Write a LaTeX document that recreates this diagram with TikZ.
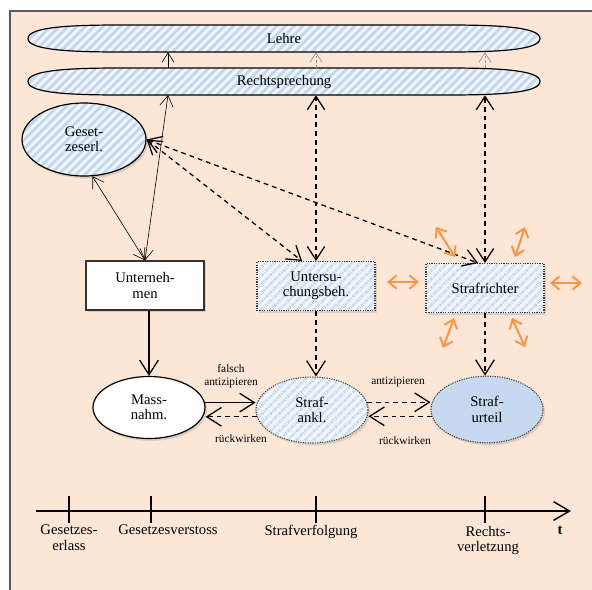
\documentclass[tikz,border=0pt]{standalone}
\usepackage{fontspec}
\setmainfont{Liberation Serif}
\usetikzlibrary{arrows.meta,shapes.geometric,patterns.meta,shadows}
\definecolor{peach}{RGB}{253,230,213}
\definecolor{stripefg}{RGB}{193,214,240}
\definecolor{stripebg}{RGB}{242,246,252}
\definecolor{urteilblue}{RGB}{198,217,241}
\definecolor{orangeA}{RGB}{247,150,70}
\definecolor{framegray}{RGB}{90,90,90}
\begin{document}
\begin{tikzpicture}[x=0.75pt,y=-0.75pt,
  every node/.style={font=\fontsize{11}{11.5}\selectfont, align=center, inner sep=0pt},
  lbl/.style={font=\fontsize{8.5}{9.5}\selectfont},
  stripes/.style={preaction={fill=stripebg}, pattern={Lines[angle=45,distance=4.6pt,line width=2.1pt]}, pattern color=stripefg},
  shad/.style={drop shadow={opacity=0.25,shadow xshift=1.5pt,shadow yshift=-1.8pt}},
  bandtext/.style={rectangle, minimum width=384pt, minimum height=20.25pt},
  bandline/.style={draw=black, line width=0.9pt, stripes},
  dotbord/.style={draw=black!75, line width=0.8pt, dash pattern=on 0.9pt off 0.9pt},
  boxnode/.style={rectangle, minimum width=88.5pt, minimum height=36.75pt, shad},
  ellnode/.style={ellipse, minimum width=84pt, minimum height=47pt, shad},
  thinboth/.style={line width=0.45pt, >={Straight Barb[length=8pt,width=10pt]}, <->},
  thinone/.style={line width=0.45pt, >={Straight Barb[length=7pt,width=9pt]}, ->},
  dashboth/.style={line width=0.95pt, dash pattern=on 3.6pt off 3pt, >={Straight Barb[length=10pt,width=13pt]}, <->},
  dashone/.style={line width=0.95pt, dash pattern=on 3.6pt off 3pt, >={Straight Barb[length=11pt,width=14pt]}, ->},
  solidone/.style={line width=0.95pt, >={Straight Barb[length=11pt,width=14pt]}, ->},
  faintdash/.style={line width=0.5pt, draw=black!45, dash pattern=on 2pt off 1.5pt, >={Straight Barb[length=7pt,width=9pt]}, ->},
  orarrow/.style={draw=orangeA, line width=1.5pt, >={Straight Barb[length=6pt,width=10pt]}, <->, drop shadow={opacity=0.2,shadow xshift=1pt,shadow yshift=-1.2pt}},
  ticks/.style={line width=0.8pt}
]
\useasboundingbox (0,0) rectangle (592,589);
% frame
\fill[peach] (10,11) rectangle (600,600);
\draw[framegray, line width=0.9pt] (10,600) -- (10,11) -- (600,11);

% bands
\path[bandline] (28,38.5) .. controls (28,27) and (70,25) .. (120,25) -- (448,25) .. controls (498,25) and (540,27) .. (540,38.5) .. controls (540,50) and (498,52) .. (448,52) -- (120,52) .. controls (70,52) and (28,50) .. (28,38.5) -- cycle;
\path[bandline] (28,81.5) .. controls (28,70) and (70,68) .. (120,68) -- (448,68) .. controls (498,68) and (540,70) .. (540,81.5) .. controls (540,93) and (498,95) .. (448,95) -- (120,95) .. controls (70,95) and (28,93) .. (28,81.5) -- cycle;
\node[bandtext] (lehre) at (284,38.5) {Lehre};
\node[bandtext] (recht) at (284,81.5) {Rechtsprechung};

% nodes
\node[ellipse, minimum width=93pt, minimum height=54.75pt, shad, draw=black, line width=0.9pt, stripes] (gesetz) at (84,139.5) {Geset-\\zeserl.};
\node[boxnode, draw=black!80, line width=0.9pt, fill=white] (unt) at (145,285.5) {Unterneh-\\men};
\node[boxnode, dotbord, stripes] (ub) at (316,286) {Untersu-\\chungsbeh.};
\node[boxnode, dotbord, stripes] (sr) at (485,288) {Strafrichter};
\node[ellnode, draw=black, line width=0.9pt, fill=white, minimum height=46.5pt] (massn) at (149,407.5) {Mass-\\nahm.};
\node[ellnode, dotbord, stripes, minimum height=49.5pt] (anklage) at (312,410) {Straf-\\ankl.};
\node[ellnode, dotbord, fill=urteilblue, minimum height=50pt] (urteil) at (487,409.5) {Straf-\\urteil};

% named points on the bands / boxes
\coordinate (rIn) at (168,95);
\coordinate (ubIn) at (302,261);
\coordinate (srIn) at (478,263);

% Rechtsprechung -> Lehre
\draw[thinone] (rIn |- recht.north) -- (rIn |- lehre.south);
\draw[faintdash] (ub.north |- recht.north) -- (ub.north |- lehre.south);
\draw[faintdash] (sr.north |- recht.north) -- (sr.north |- lehre.south);

% Gesetzeserlass connections
\draw[thinboth] (gesetz.-77) -- (unt.north);
\draw[thinboth] (unt.north) -- (rIn);
\draw[dashboth] (gesetz.east) -- (ubIn);
\draw[dashboth] (gesetz.east) -- (srIn);
\draw[dashboth] (ub.north) -- (ub.north |- recht.south);
\draw[dashboth] (sr.north) -- (sr.north |- recht.south);

% downward arrows
\draw[solidone] (massn.north |- unt.south) -- (massn.north);
\draw[dashone] (ub.south) -- (ub.south |- anklage.north);
\draw[dashone] (sr.south) -- (sr.south |- urteil.north);

% horizontal interactions
\draw[solidone] (massn.5) -- (massn.5 -| anklage.west);
\draw[dashone] (anklage.187) -- (anklage.187 -| massn.east);
\draw[dashone] (anklage.8) -- (anklage.8 -| urteil.west);
\draw[dashone] (urteil.187) -- (urteil.187 -| anklage.east);
\node[lbl] (l1) at (231,376.5) {falsch\\antizipieren};
\node[lbl] (l2) at (241,438.5) {rückwirken};
\node[lbl] (l3) at (398,381.5) {antizipieren};
\node[lbl] (l4) at (405,441) {rückwirken};

% orange arrows around Strafrichter
\coordinate (oL1) at (387,282); \coordinate (oL2) at (419,282);
\coordinate (oR1) at (550,283); \coordinate (oR2) at (582,283);
\coordinate (oTL1) at (436,227); \coordinate (oTL2) at (455,257);
\coordinate (oTR1) at (525,227); \coordinate (oTR2) at (515,257);
\coordinate (oBL1) at (454,318); \coordinate (oBL2) at (443,348);
\coordinate (oBR1) at (512,318); \coordinate (oBR2) at (525,347);
\draw[orarrow] (oL1) -- (oL2);
\draw[orarrow] (oR1) -- (oR2);
\draw[orarrow] (oTL1) -- (oTL2);
\draw[orarrow] (oTR1) -- (oTR2);
\draw[orarrow] (oBL1) -- (oBL2);
\draw[orarrow] (oBR1) -- (oBR2);

% timeline
\coordinate (t0) at (36,511);
\coordinate (t1) at (571,511);
\draw[line width=1.1pt, -{Straight Barb[length=12pt,width=14pt]}] (t0) -- (t1);
\draw[ticks] (69,496) -- (69,523);
\draw[ticks] (151,496) -- (151,523);
\draw[ticks] (316,496) -- (316,523);
\draw[ticks] (485,496) -- (485,523);
\node[anchor=north] (g1) at (69,525) {Gesetzes-\\erlass};
\node[anchor=north] (g2) at (168,525) {Gesetzesverstoss};
\node[anchor=north] (g3) at (311,525) {Strafverfolgung};
\node[anchor=north] (g4) at (488,526) {Rechts-\\verletzung};
\node[anchor=north, font=\fontsize{11}{11.5}\selectfont\bfseries] (tt) at (560,526) {t};
\end{tikzpicture}
\end{document}
